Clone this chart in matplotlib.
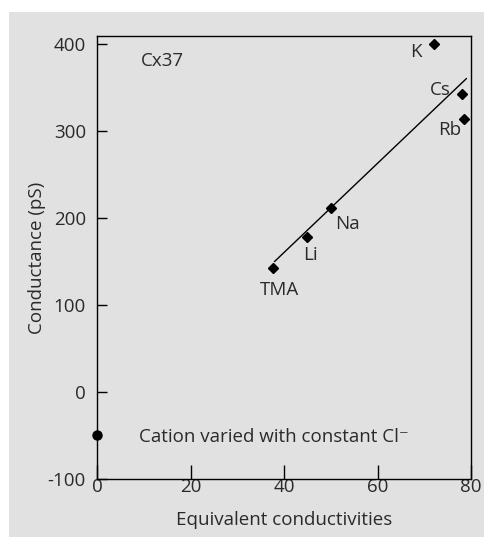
import matplotlib
matplotlib.use("Agg")
import matplotlib.pyplot as plt
from matplotlib.patches import Rectangle

# Data
ions = ["K", "Cs", "Rb", "Na", "Li", "TMA"]
equiv_cond = [72, 78, 78.5, 50, 45, 37.6]
conductance = [400, 342.5, 314, 211, 178.5, 142.5]
fit_x = [38, 79]
fit_y = [150, 360]
legend_x = [0]
legend_y = [-50]
xticks = [0, 20, 40, 60, 80]
yticks = [-100, 0, 100, 200, 300, 400]

plt.rcParams['font.family'] = ['Open Sans', 'DejaVu Sans']
W, H = 485, 537
fig = plt.figure(figsize=(W/100, H/100), dpi=100)
fig.patch.set_facecolor('white')
bg = Rectangle((9/W, 0), 1 - 9/W, (H-12)/H, transform=fig.transFigure,
               facecolor='#e1e1e1', edgecolor='none', zorder=-10)
fig.patches.append(bg)

ax = fig.add_axes([97/W, (H-479)/H, (471-97)/W, (479-36)/H])
ax.set_zorder(5)
ax.set_facecolor('#e1e1e1')
ax.set_xlim(0, 80)
ax.set_ylim(-100, 409)

ax.plot(fit_x, fit_y, color='black', lw=1.0, zorder=2)
ax.plot(equiv_cond, conductance, 'D', color='black', markersize=5.5, zorder=3, clip_on=False)
ax.plot(legend_x, legend_y, 'o', color='black', markersize=6.5, zorder=3, clip_on=False)

fs = 13.5
tc = '#2a2a2a'
offsets = {"K": (-18, -8), "Cs": (-21, 4), "Rb": (-14, -11),
           "Na": (17, -16), "Li": (3, -18), "TMA": (7, -22)}
for name, x, y in zip(ions, equiv_cond, conductance):
    dx, dy = offsets[name]
    ax.annotate(name, (x, y), xytext=(dx, dy), textcoords='offset pixels',
                ha='center', va='center', fontsize=fs, color=tc)

ax.text(13.9, 380, "Cx37", fontsize=fs, color=tc, ha='center', va='center')
ax.annotate("Cation varied with constant Cl\u207b", (0, -50), xytext=(42, -2),
            textcoords='offset pixels', ha='left', va='center', fontsize=fs, color=tc)

ax.set_xticks(xticks)
ax.set_yticks(yticks)
ax.set_yticklabels([str(v) for v in yticks])
ax.tick_params(direction='in', length=7, width=1, labelsize=fs, colors='black',
               labelcolor=tc, top=False, right=False)
ax.tick_params(axis='x', length=10, pad=-1)
ax.tick_params(axis='y', pad=8)
for s in ax.spines.values():
    s.set_linewidth(1.0)

ax.set_xlabel("Equivalent conductivities", fontsize=fs, color=tc, labelpad=11)
ax.set_ylabel("Conductance (pS)", fontsize=fs, color=tc, labelpad=1)

fig.savefig("out.png", dpi=100)
